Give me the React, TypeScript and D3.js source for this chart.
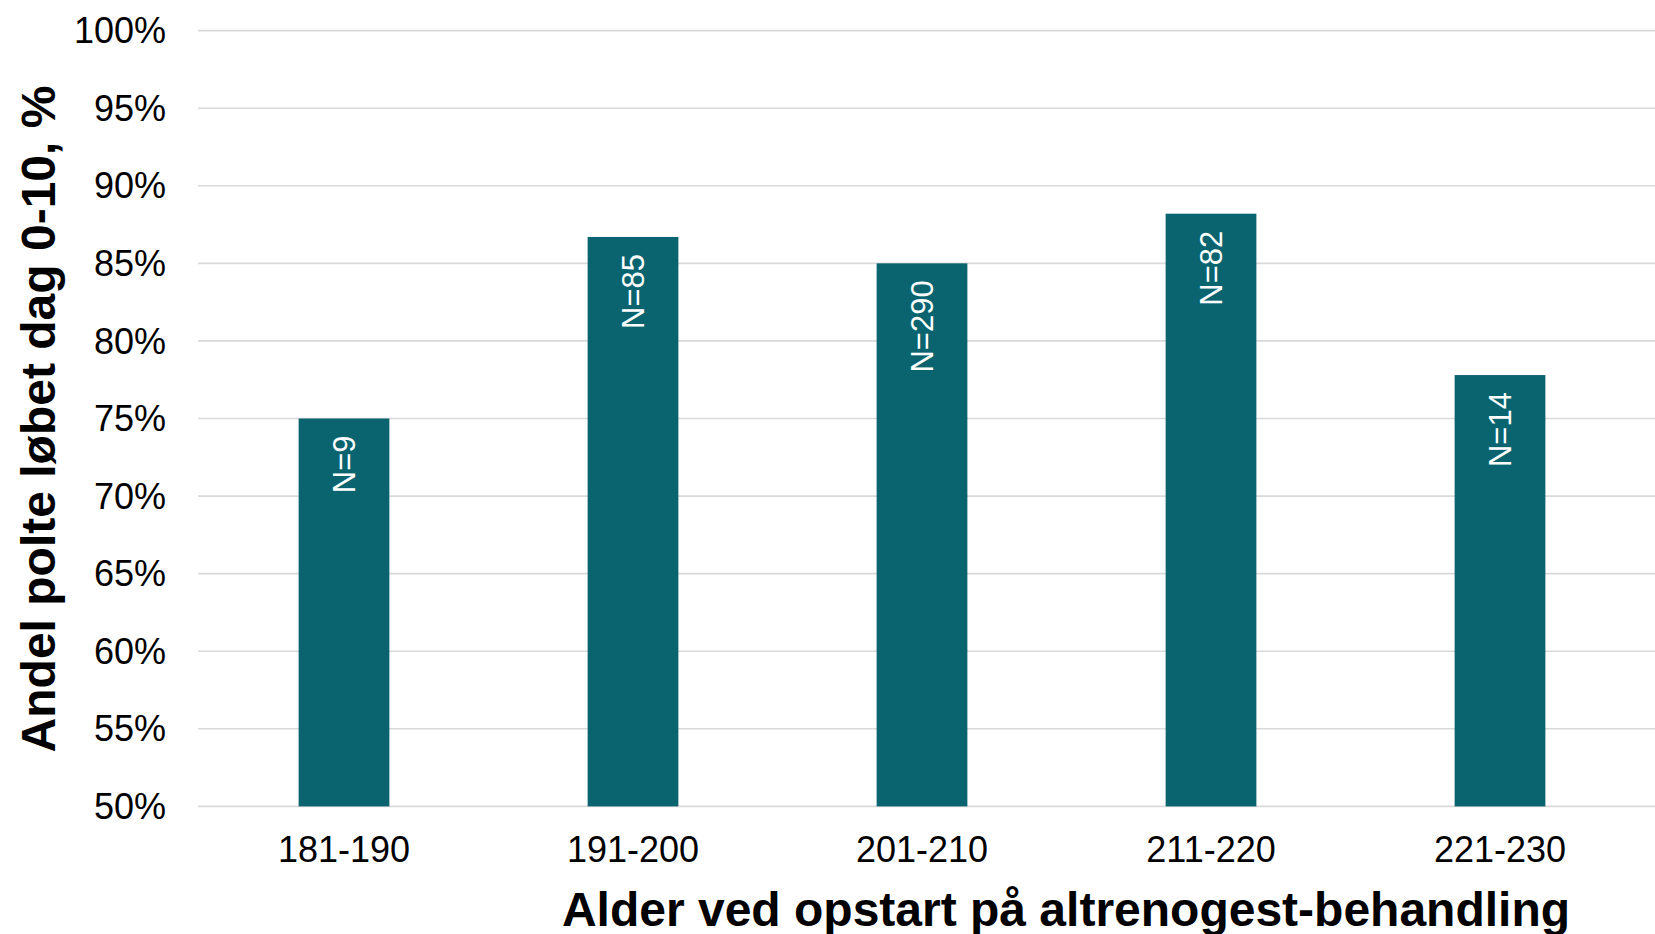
import React from 'react';
import * as d3 from 'd3';

// Data
const categories = ['181-190', '191-200', '201-210', '211-220', '221-230'];
const shares = [75.0, 86.7, 85.0, 88.2, 77.8];
const counts = ['N=9', 'N=85', 'N=290', 'N=82', 'N=14'];
const yTicks = [50, 55, 60, 65, 70, 75, 80, 85, 90, 95, 100];

const yTitle = 'Andel polte løbet dag 0-10, %';
const xTitle = 'Alder ved opstart på altrenogest-behandling';

const width = 1655;
const height = 934;
const margin = { top: 30.6, right: 0, bottom: 127.6, left: 198 };
const font = '"Liberation Sans", Arial, sans-serif';
const barColor = '#09646f';
const gridColor = '#d9d9d9';

export default function App() {
  const innerW = width - margin.left - margin.right;
  const innerH = height - margin.top - margin.bottom;

  // category bands stop a little short of the right edge; gridlines run off it
  const x = d3.scaleBand<string>()
    .domain(categories)
    .range([1.5, 1446.5])
    .paddingInner(0.686)
    .paddingOuter(0.343);

  const y = d3.scaleLinear()
    .domain([50, 100])
    .range([innerH, 0]);

  return (
    <svg
      width={width}
      height={height}
      style={{ position: 'absolute', left: 0, top: 0, background: '#fff' }}
      fontFamily={font}
    >
      <g transform={`translate(${margin.left},${margin.top})`}>
        {/* gridlines */}
        {yTicks.map(t => (
          <line
            key={t}
            x1={0}
            x2={innerW}
            y1={y(t)}
            y2={y(t)}
            stroke={gridColor}
            strokeWidth={1.6}
          />
        ))}

        {/* y tick labels */}
        {yTicks.map(t => (
          <text
            key={'l' + t}
            x={-32}
            y={y(t)}
            dy="0.35em"
            textAnchor="end"
            fontSize={36}
            fill="#000"
          >
            {t}%
          </text>
        ))}

        {/* bars */}
        {categories.map((c, i) => (
          <rect
            key={c}
            x={x(c)}
            y={y(shares[i])}
            width={x.bandwidth()}
            height={innerH - y(shares[i])}
            fill={barColor}
          />
        ))}

        {/* N labels inside bars */}
        {categories.map((c, i) => {
          const cx = (x(c) || 0) + x.bandwidth() / 2;
          const ty = y(shares[i]) + 17;
          return (
            <text
              key={'n' + c}
              transform={`translate(${cx + 11},${ty}) rotate(-90)`}
              textAnchor="end"
              fontSize={31}
              fill="#fff"
            >
              {counts[i]}
            </text>
          );
        })}

        {/* x tick labels */}
        {categories.map(c => (
          <text
            key={'x' + c}
            x={(x(c) || 0) + x.bandwidth() / 2}
            y={innerH + 56}
            textAnchor="middle"
            fontSize={36}
            fill="#000"
          >
            {c}
          </text>
        ))}
      </g>

      {/* axis titles */}
      <text
        x={1066}
        y={926}
        textAnchor="middle"
        fontSize={48}
        fontWeight="bold"
        fill="#000"
      >
        {xTitle}
      </text>
      <text
        transform={`translate(55,419) rotate(-90)`}
        textAnchor="middle"
        fontSize={48}
        fontWeight="bold"
        fill="#000"
      >
        {yTitle}
      </text>
    </svg>
  );
}
